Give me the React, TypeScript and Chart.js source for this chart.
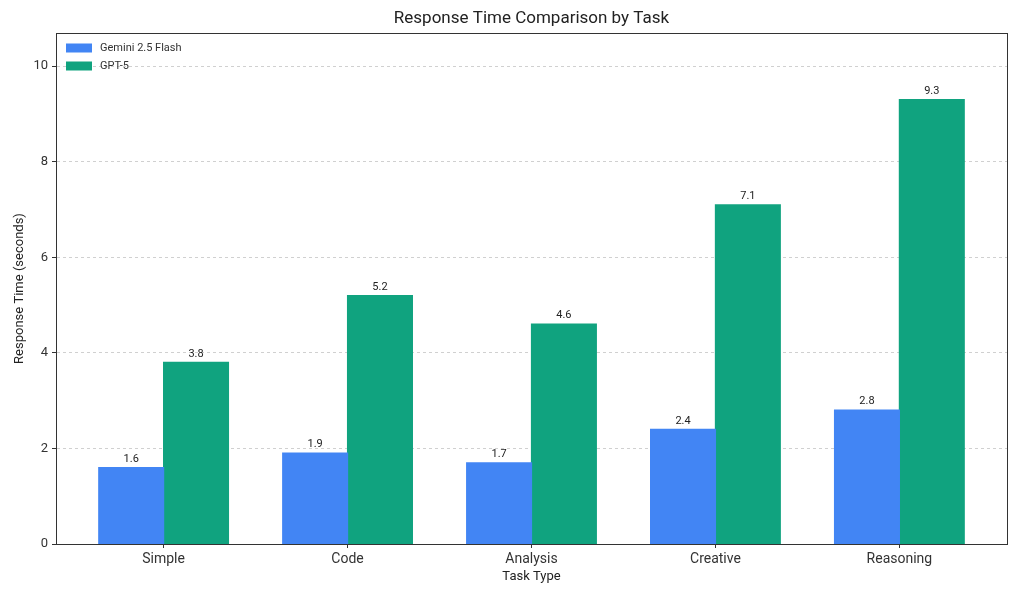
import React, { useEffect, useRef } from "react";
import { Chart, registerables } from "chart.js";

Chart.register(...registerables);

const categories = ["Simple", "Code", "Analysis", "Creative", "Reasoning"];
const geminiValues = [1.6, 1.9, 1.7, 2.4, 2.8];
const gptValues = [3.8, 5.2, 4.6, 7.1, 9.3];
const seriesNames = ["Gemini 2.5 Flash", "GPT-5"];
const seriesColors = ["#4285F4", "#10A37F"];
const yTicks = [0, 2, 4, 6, 8, 10];

const FONT = "Roboto, 'Open Sans', sans-serif";

export default function App() {
  const ref = useRef<HTMLCanvasElement>(null);
  useEffect(() => {
    document.body.style.margin = "0";
    const canvas = ref.current!;
    const framePlugin = {
      id: "frame",
      afterDraw(chart: any) {
        const { ctx, chartArea } = chart;
        const { left, right, top, bottom } = chartArea;
        ctx.save();
        ctx.strokeStyle = "#333";
        ctx.lineWidth = 1;
        ctx.strokeRect(left + 0.5, top + 0.5, right - left, bottom - top);
        // title
        ctx.fillStyle = "#222";
        ctx.font = `17px ${FONT}`;
        ctx.textAlign = "center";
        ctx.textBaseline = "middle";
        ctx.fillText("Response Time Comparison by Task", (left + right) / 2, 19);
        // value labels
        ctx.font = `11px ${FONT}`;
        ctx.fillStyle = "#222";
        ctx.textBaseline = "bottom";
        chart.data.datasets.forEach((ds: any, di: number) => {
          const meta = chart.getDatasetMeta(di);
          meta.data.forEach((bar: any, i: number) => {
            const v = ds.data[i].y;
            ctx.fillText(v.toFixed(1), bar.x, bar.y - 3);
          });
        });
        // legend
        ctx.font = `11px ${FONT}`;
        ctx.textAlign = "left";
        ctx.textBaseline = "middle";
        seriesNames.forEach((name, i) => {
          const cy = 48 + i * 18;
          ctx.fillStyle = seriesColors[i];
          ctx.fillRect(left + 10, cy - 4.5, 26, 9);
          ctx.fillStyle = "#333";
          ctx.fillText(name, left + 44, cy);
        });
        ctx.restore();
      },
    };
    const chart = new Chart(canvas, {
      type: "bar",
      data: {
        datasets: [
          {
            label: seriesNames[0],
            data: geminiValues.map((v, i) => ({ x: i, y: v })),
            backgroundColor: seriesColors[0],
            borderWidth: 0,
            inflateAmount: 0.6,
          },
          {
            label: seriesNames[1],
            data: gptValues.map((v, i) => ({ x: i, y: v })),
            backgroundColor: seriesColors[1],
            borderWidth: 0,
            inflateAmount: 0.6,
          },
        ],
      },
      options: {
        animation: false,
        responsive: false,
        maintainAspectRatio: false,
        layout: { padding: { top: 33, right: 17, left: 0, bottom: 0 } },
        plugins: { legend: { display: false }, title: { display: false }, tooltip: { enabled: false } },
        datasets: { bar: { categoryPercentage: 0.705, barPercentage: 1 } },
        scales: {
          x: {
            type: "linear",
            min: -0.585,
            max: 4.585,
            offset: false,
            afterBuildTicks(scale: any) {
              scale.ticks = categories.map((_, i) => ({ value: i }));
            },
            afterFit(scale: any) {
              scale.height = 53;
            },
            ticks: {
              callback: (v: any) => categories[Math.round(Number(v))] ?? "",
              font: { family: FONT, size: 14 },
              color: "#333",
              padding: 3,
              autoSkip: false,
              maxRotation: 0,
            },
            grid: { offset: false, drawOnChartArea: false, drawTicks: true, tickLength: 4, tickColor: "#333" },
            border: { color: "#333", width: 1 },
            title: {
              display: true,
              text: "Task Type",
              font: { family: FONT, size: 13 },
              color: "#222",
              padding: { top: 0, bottom: 12 },
            },
          },
          y: {
            type: "linear",
            min: 0,
            max: 10.695,
            afterBuildTicks(scale: any) {
              scale.ticks = yTicks.map((v) => ({ value: v }));
            },
            afterFit(scale: any) {
              scale.width = 56;
            },
            ticks: {
              font: { family: FONT, size: 13 },
              color: "#333",
              padding: 4,
            },
            grid: {
              color: "#d0d0d0",
              drawTicks: true,
              tickLength: 4,
              tickColor: "#333",
              tickBorderDash: [],
            } as any,
            border: { color: "#333", width: 1, dash: [3, 3] } as any,
            title: {
              display: true,
              text: "Response Time (seconds)",
              font: { family: FONT, size: 13 },
              color: "#222",
              padding: { top: 12, bottom: 0 },
            },
          },
        },
      } as any,
      plugins: [framePlugin],
    });
    return () => chart.destroy();
  }, []);
  return (
    <div style={{ width: 1024, height: 597 }}>
      <canvas ref={ref} width={1024} height={597} style={{ width: 1024, height: 597, display: "block" }} />
    </div>
  );
}
